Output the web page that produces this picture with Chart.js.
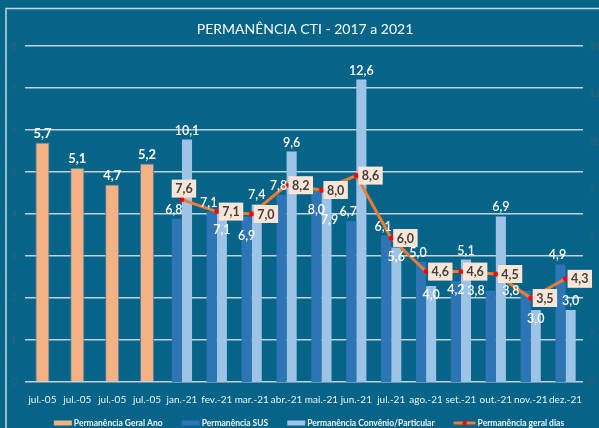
<!DOCTYPE html>
<html>
<head>
<meta charset="utf-8">
<script src="https://cdn.jsdelivr.net/npm/chart.js@4/dist/chart.umd.min.js"></script>
<style>
  html, body { margin: 0; padding: 0; background: #066489; }
  #wrap { width: 599px; height: 428px; position: relative; }
</style>
</head>
<body>
<div id="wrap"><canvas id="grafico" width="599" height="428"></canvas></div>
<script>
// dados
const categorias = ['jul.-05', 'jul.-05', 'jul.-05', 'jul.-05', 'jan.-21', 'fev.-21', 'mar.-21', 'abr.-21',
    'mai.-21', 'jun.-21', 'jul.-21', 'ago.-21', 'set.-21', 'out.-21', 'nov.-21', 'dez.-21'];
const geralAno = [5.7, 5.1, 4.7, 5.2, null, null, null, null, null, null, null, null, null, null, null, null];
const sus = [null, null, null, null, 6.8, 7.1, 6.9, 7.8, 8.0, 6.7, 6.1, 5.0, 4.2, 3.8, 3.8, 4.9];
const convenio = [null, null, null, null, 10.1, 7.1, 7.4, 9.6, 7.9, 12.6, 5.6, 4.0, 5.1, 6.9, 3.0, 3.0];
const geralDias = [null, null, null, null, 7.6, 7.1, 7.0, 8.2, 8.0, 8.6, 6.0, 4.6, 4.6, 4.5, 3.5, 4.3];
const titulo = 'PERMANÊNCIA CTI - 2017 a 2021';

const FONTE = 'Lato, "Open Sans", sans-serif';
const fmt = v => v.toFixed(1).replace('.', ',');

// fundo + moldura + título
const fundo = {
    id: 'fundo',
    beforeDraw(chart) {
        const ctx = chart.ctx;
        ctx.save();
        ctx.fillStyle = '#066489';
        ctx.fillRect(0, 0, chart.width, chart.height);
        ctx.strokeStyle = '#c9d5dd';
        ctx.lineWidth = 1.5;
        ctx.beginPath();
        ctx.moveTo(6, chart.height + 5);
        ctx.lineTo(6, 8.5);
        ctx.lineTo(chart.width + 5, 8.5);
        ctx.stroke();
        ctx.fillStyle = '#ffffff';
        ctx.font = '14px ' + FONTE;
        ctx.textAlign = 'center';
        ctx.textBaseline = 'middle';
        ctx.fillText(titulo, 305, 29);
        ctx.restore();
    }
};

function area(a, b) {
    const w = Math.min(a.x2, b.x2) - Math.max(a.x1, b.x1);
    const h = Math.min(a.y2, b.y2) - Math.max(a.y1, b.y1);
    return (w > 1 && h > 1) ? w * h : 0;
}
const soma = (r, lista) => lista.reduce((acc, o) => acc + area(o, r), 0);

// pega o candidato com menor sobreposição (empate: o primeiro)
function escolhe(cands, ocupados) {
    let melhor = cands[0], menor = Infinity;
    cands.forEach(r => {
        const s = soma(r, ocupados);
        if (s < menor - 0.5) { menor = s; melhor = r; }
    });
    return melhor;
}

// rótulos de dados (com um pouco de anti-colisão, tipo o Excel)
const rotulos = {
    id: 'rotulos',
    afterDatasetsDraw(chart) {
        const ctx = chart.ctx;
        ctx.save();
        ctx.textAlign = 'center';
        ctx.textBaseline = 'middle';
        const H = 12;
        const mSus = chart.getDatasetMeta(1);
        const mConv = chart.getDatasetMeta(2);
        const mLinha = chart.getDatasetMeta(3);

        ctx.font = '600 12.5px ' + FONTE;
        const naturais = [];
        const wSus = [], wConv = [];
        categorias.forEach((c, i) => {
            if (sus[i] !== null) {
                const b = mSus.data[i];
                wSus[i] = ctx.measureText(fmt(sus[i])).width;
                naturais.push({ x1: b.x - 3 - wSus[i] / 2, x2: b.x - 3 + wSus[i] / 2, y1: b.y - 3 - H, y2: b.y - 3 });
            }
            if (convenio[i] !== null) {
                const b = mConv.data[i];
                wConv[i] = ctx.measureText(fmt(convenio[i])).width;
                naturais.push({ x1: b.x - wConv[i] / 2, x2: b.x + wConv[i] / 2, y1: b.y - 3 - H, y2: b.y - 3 });
            }
        });

        // caixas da linha: à direita, ou acima se a direita atrapalhar bem mais
        const caixas = [];
        ctx.font = 'bold 12.5px ' + FONTE;
        geralDias.forEach((v, i) => {
            if (v === null) return;
            const p = mLinha.data[i];
            const w = ctx.measureText(fmt(v)).width + 7;
            const dir = { x1: p.x + 2, x2: p.x + 2 + w, y1: p.y - 9, y2: p.y + 9 };
            const cima = { x1: p.x + 2 - w / 2, x2: p.x + 2 + w / 2, y1: p.y - 20, y2: p.y - 2 };
            const outros = naturais.concat(caixas);
            const r = soma(dir, outros) > 3 * soma(cima, outros) + 20 ? cima : dir;
            r.v = v;
            caixas.push(r);
        });
        const ocupados = caixas.slice();

        // barras laranja
        ctx.font = 'bold 13px ' + FONTE;
        ctx.fillStyle = '#ffffff';
        const mAno = chart.getDatasetMeta(0);
        geralAno.forEach((v, i) => {
            if (v === null) return;
            const b = mAno.data[i];
            ctx.fillText(fmt(v), b.x, b.y - 9);
        });

        ctx.font = '600 12.5px ' + FONTE;
        categorias.forEach((c, i) => {
            if (sus[i] !== null) {
                const b = mSus.data[i];
                const w = wSus[i];
                const xl = b.x - b.width / 2 - 1;
                const r = escolhe([
                    { x1: b.x - 3 - w / 2, x2: b.x - 3 + w / 2, y1: b.y - 3 - H, y2: b.y - 3 },
                    { x1: xl - w, x2: xl, y1: b.y - H / 2, y2: b.y + H / 2 },
                    { x1: b.x - w / 2, x2: b.x + w / 2, y1: b.y + 3, y2: b.y + 3 + H },
                    { x1: xl - w, x2: xl, y1: b.y + 2, y2: b.y + 2 + H },
                    { x1: b.x - w / 2, x2: b.x + w / 2, y1: b.y + 14, y2: b.y + 14 + H }
                ], ocupados);
                ocupados.push(r);
                ctx.fillText(fmt(sus[i]), (r.x1 + r.x2) / 2, (r.y1 + r.y2) / 2);
            }
            if (convenio[i] !== null) {
                const b = mConv.data[i];
                const w = wConv[i];
                const r = escolhe([
                    { x1: b.x - w / 2, x2: b.x + w / 2, y1: b.y - 3 - H, y2: b.y - 3 },
                    { x1: b.x - w / 2, x2: b.x + w / 2, y1: b.y + 3, y2: b.y + 3 + H },
                    { x1: b.x - w / 2, x2: b.x + w / 2, y1: b.y + 12, y2: b.y + 12 + H },
                    { x1: b.x - w / 2 + 3, x2: b.x + w / 2 + 3, y1: b.y + 22, y2: b.y + 22 + H }
                ], ocupados);
                ocupados.push(r);
                ctx.fillText(fmt(convenio[i]), (r.x1 + r.x2) / 2, (r.y1 + r.y2) / 2);
            }
        });

        // caixas da linha por cima
        ctx.font = 'bold 12.5px ' + FONTE;
        caixas.forEach(c => {
            ctx.fillStyle = '#fbe5d6';
            ctx.fillRect(c.x1, c.y1, c.x2 - c.x1, c.y2 - c.y1);
            ctx.fillStyle = '#404040';
            ctx.fillText(fmt(c.v), (c.x1 + c.x2) / 2, (c.y1 + c.y2) / 2 + 0.5);
        });
        ctx.restore();
    }
};

// legenda desenhada à mão
const legenda = {
    id: 'legenda',
    afterDraw(chart) {
        const ctx = chart.ctx;
        const itens = [
            { txt: 'Permanência Geral Ano', cor: '#f4b183', tipo: 'caixa' },
            { txt: 'Permanência SUS', cor: '#2e75b6', tipo: 'caixa' },
            { txt: 'Permanência Convênio/Particular', cor: '#9dc3e6', tipo: 'caixa' },
            { txt: 'Permanência geral dias', cor: '#ed7d31', tipo: 'linha' }
        ];
        ctx.save();
        ctx.font = 'bold 8.5px ' + FONTE;
        ctx.textBaseline = 'middle';
        const marca = 18, esp = 2, gap = 19;
        let total = 0;
        itens.forEach(it => { it.w = marca + esp + ctx.measureText(it.txt).width; total += it.w; });
        total += gap * (itens.length - 1);
        let x = 307 - total / 2;
        const y = 423;
        itens.forEach(it => {
            if (it.tipo === 'caixa') {
                ctx.fillStyle = it.cor;
                ctx.fillRect(x, y - 2.5, marca, 5);
            } else {
                ctx.strokeStyle = it.cor;
                ctx.lineWidth = 3;
                ctx.beginPath();
                ctx.moveTo(x, y); ctx.lineTo(x + marca + 4, y);
                ctx.stroke();
                ctx.fillStyle = '#ff0000';
                ctx.beginPath();
                ctx.arc(x + (marca + 4) / 2, y, 2.2, 0, Math.PI * 2);
                ctx.fill();
                x += 4;
            }
            ctx.fillStyle = '#f2f6f8';
            ctx.fillText(it.txt, x + marca + esp, y + 0.5);
            x += it.w + gap;
        });
        ctx.restore();
    }
};

new Chart(document.getElementById('grafico').getContext('2d'), {
    type: 'bar',
    data: {
        labels: categorias,
        datasets: [
            {
                label: 'Permanência Geral Ano', data: geralAno, yAxisID: 'y',
                backgroundColor: '#f4b183', borderColor: '#4f79a8', borderWidth: 1,
                categoryPercentage: 0.58, barPercentage: 0.7, skipNull: true
            },
            {
                label: 'Permanência SUS', data: sus, yAxisID: 'y1',
                backgroundColor: '#2e75b6', borderWidth: 0,
                categoryPercentage: 0.58, barPercentage: 1, skipNull: true
            },
            {
                label: 'Permanência Convênio/Particular', data: convenio, yAxisID: 'y1',
                backgroundColor: '#9dc3e6', borderWidth: 0,
                categoryPercentage: 0.58, barPercentage: 1, skipNull: true
            },
            {
                type: 'line', label: 'Permanência geral dias', data: geralDias, yAxisID: 'y1',
                borderColor: '#ed7d31', borderWidth: 3, tension: 0, order: -1,
                pointRadius: 2.5, pointBackgroundColor: '#ff0000', pointBorderWidth: 0
            }
        ]
    },
    options: {
        responsive: false, animation: false,
        layout: { padding: { top: 46, left: 0, right: 0, bottom: 0 } },
        plugins: { legend: { display: false }, title: { display: false }, tooltip: { enabled: false } },
        scales: {
            x: {
                grid: { display: false }, border: { display: false },
                ticks: { color: '#eef3f6', font: { family: FONTE, size: 10 }, padding: 4, maxRotation: 0, autoSkip: false },
                afterFit: s => { s.height = 46; }
            },
            y: {
                position: 'left', min: 0, max: 8,
                ticks: { stepSize: 1, color: '#3f5d70', font: { family: FONTE, size: 10 }, padding: 8 },
                grid: { color: '#c4d2db', lineWidth: 1.6, drawTicks: false },
                border: { display: false },
                afterFit: s => { s.width = 25; }
            },
            y1: {
                position: 'right', min: 0, max: 14,
                ticks: { stepSize: 2, color: '#3f5d70', font: { family: FONTE, size: 10 }, padding: 6 },
                grid: { display: false, drawTicks: false },
                border: { display: false },
                afterFit: s => { s.width = 16; }
            }
        }
    },
    plugins: [fundo, rotulos, legenda]
});
</script>
</body>
</html>
